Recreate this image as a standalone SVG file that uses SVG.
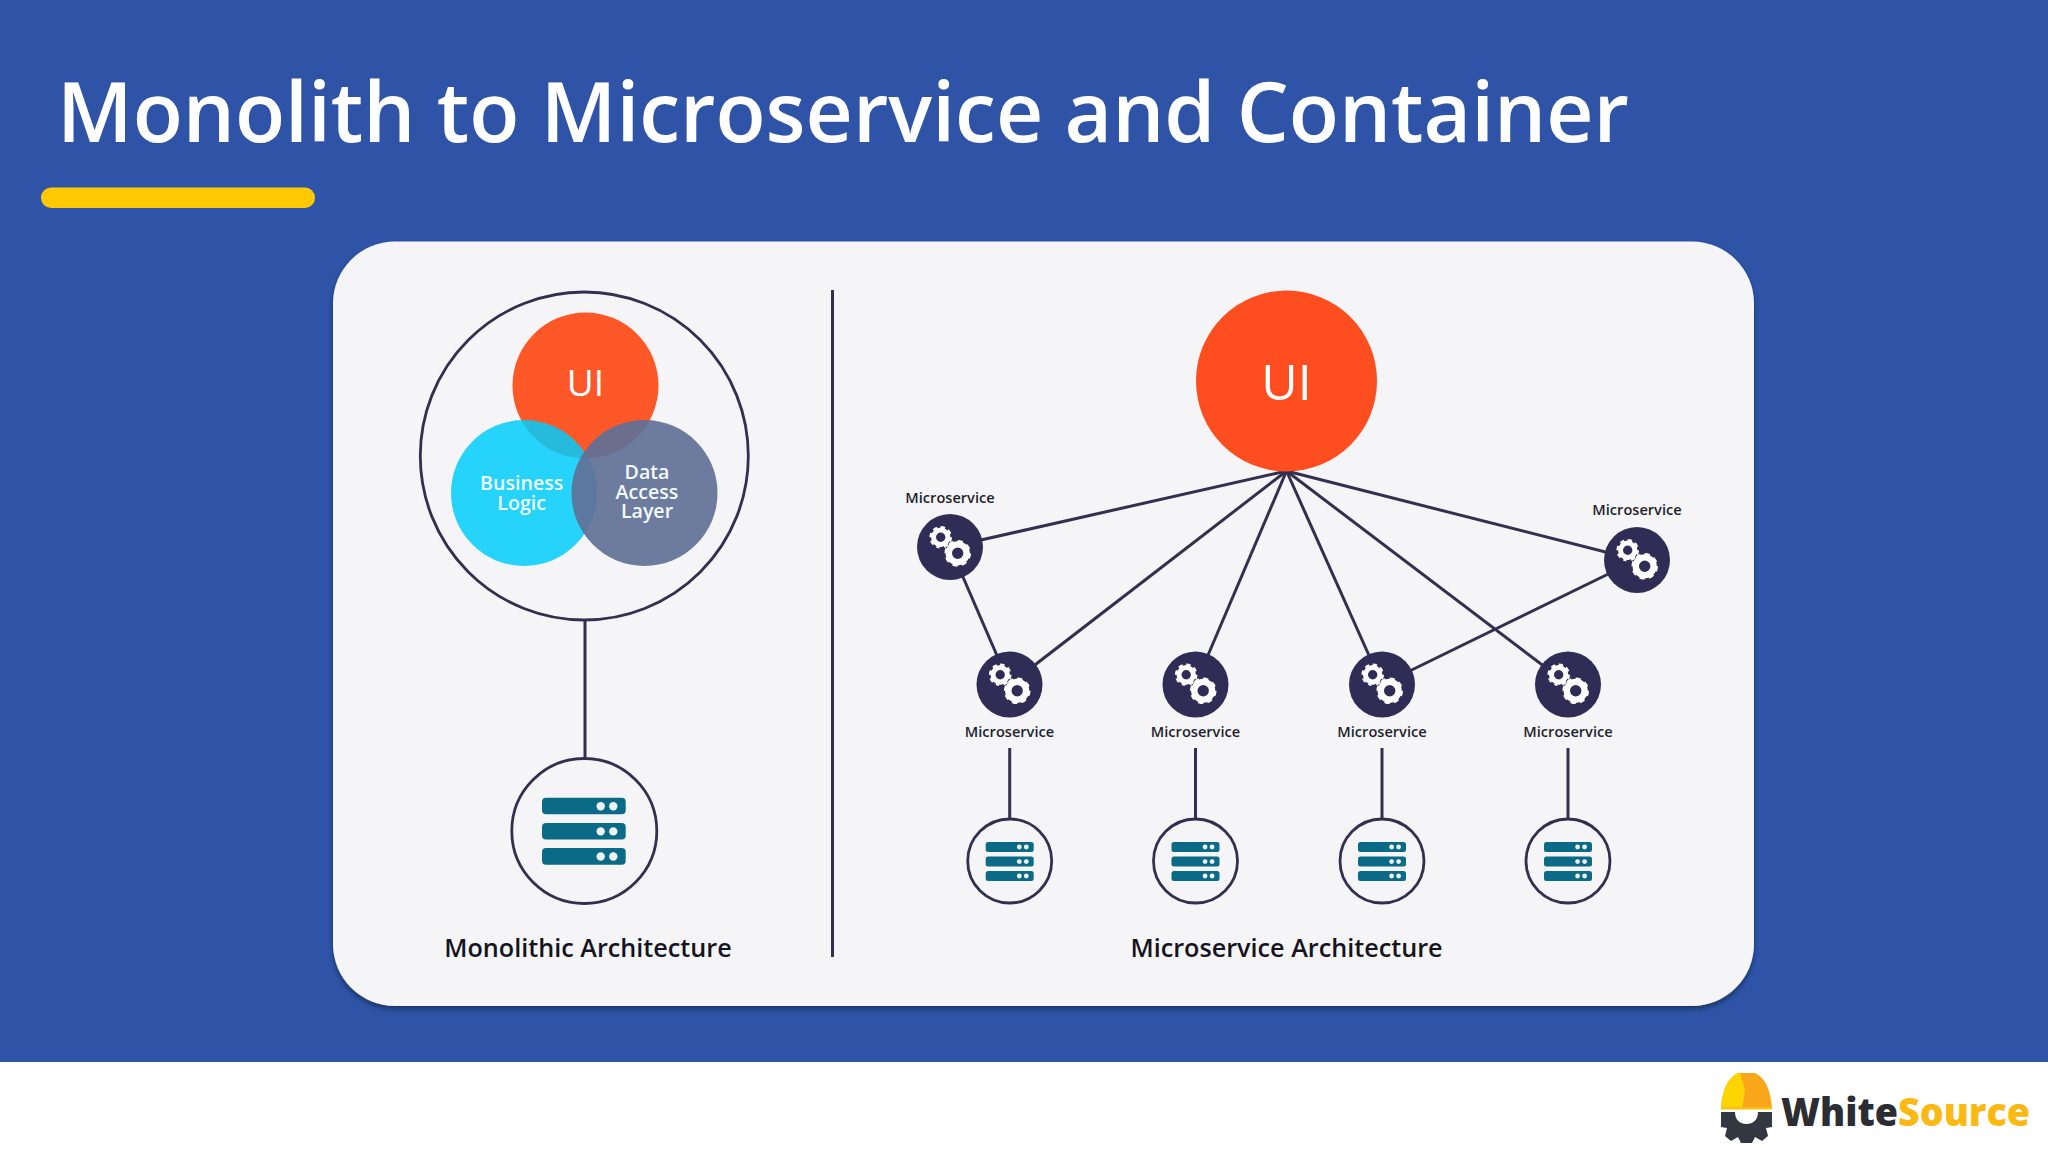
<svg xmlns="http://www.w3.org/2000/svg" width="2048" height="1152" viewBox="0 0 2048 1152">
<style>
text{font-family:"Open Sans","Noto Sans","Liberation Sans",sans-serif;text-anchor:middle}
.w{fill:#fff}
.ln{stroke:#33304f;stroke-width:3;fill:none}
.lab{font-size:14.6px;font-weight:600;fill:#1f1f2e}
.cap{font-size:25.2px;font-weight:600;fill:#14141e}
.in{font-size:19.6px;font-weight:600;fill:#f2fbff}
.bar{fill:#0b6a85}
.dot{fill:#eef3f8}
.node{fill:#2f2d55}
.srv{fill:#f5f5f7;stroke:#33304f;stroke-width:2.8}
</style>
<defs>
<filter id="sh" x="-5%" y="-5%" width="110%" height="110%"><feDropShadow dx="0" dy="3" stdDeviation="2.5" flood-color="#12254f" flood-opacity=".75"/></filter>
<g id="gears">
<circle cx="-9.3" cy="-9.7" r="7.2" fill="none" stroke="#fff" stroke-width="5"/>
<circle cx="-9.3" cy="-9.7" r="9.8" fill="none" stroke="#fff" stroke-width="3" pathLength="16" stroke-dasharray="1.1 .9"/>
<circle cx="7.7" cy="6.3" r="8.9" fill="none" stroke="#fff" stroke-width="6.4"/>
<circle cx="7.7" cy="6.3" r="11.8" fill="none" stroke="#fff" stroke-width="3" pathLength="16" stroke-dasharray="1.1 .9"/>
</g>
<g id="srvS">
<circle class="srv" r="42"/>
<rect class="bar" x="-24" y="-19" width="48" height="10" rx="2.5"/><rect class="bar" x="-24" y="-4.4" width="48" height="10" rx="2.5"/><rect class="bar" x="-24" y="10" width="48" height="10" rx="2.5"/>
<circle class="dot" cx="9.6" cy="-14" r="2.4"/><circle class="dot" cx="16.6" cy="-14" r="2.4"/>
<circle class="dot" cx="9.6" cy="0.6" r="2.4"/><circle class="dot" cx="16.6" cy="0.6" r="2.4"/>
<circle class="dot" cx="9.6" cy="15" r="2.4"/><circle class="dot" cx="16.6" cy="15" r="2.4"/>
</g>
</defs>
<rect width="2048" height="1152" fill="#fff"/>
<rect width="2048" height="1062" fill="#2f54a7"/>
<text class="w" x="57" y="142" font-size="84" font-weight="600" textLength="1572" lengthAdjust="spacingAndGlyphs" style="text-anchor:start">Monolith to Microservice and Container</text>
<rect x="41" y="187.500" width="274" height="20.500" rx="10" fill="#fec900"/>
<rect id="card" x="333" y="241.500" width="1421" height="764.500" rx="62" fill="#f5f5f7" filter="url(#sh)"/>
<line class="ln" x1="832.500" y1="290" x2="832.500" y2="957"/>

<g id="connectors">
<line class="ln" x1="585" y1="620" x2="585" y2="758"/>
<line class="ln" x1="1286.500" y1="471" x2="950" y2="547"/>
<line class="ln" x1="1286.500" y1="471" x2="1009.500" y2="684.500"/>
<line class="ln" x1="1286.500" y1="471" x2="1195.500" y2="684.500"/>
<line class="ln" x1="1286.500" y1="471" x2="1382" y2="684.500"/>
<line class="ln" x1="1286.500" y1="471" x2="1568" y2="684.500"/>
<line class="ln" x1="1286.500" y1="471" x2="1637" y2="560"/>
<line class="ln" x1="950" y1="547" x2="1009.500" y2="684.500"/>
<line class="ln" x1="1382" y1="684.500" x2="1637" y2="560"/>
<line class="ln" x1="1009.700" y1="748" x2="1009.700" y2="820"/>
<line class="ln" x1="1195.500" y1="748" x2="1195.500" y2="820"/>
<line class="ln" x1="1382" y1="748" x2="1382" y2="820"/>
<line class="ln" x1="1568" y1="748" x2="1568" y2="820"/>
</g>

<g id="monolith"><circle cx="584.300" cy="456" r="164" fill="none" stroke="#33304f" stroke-width="2.800"/></g>
<g id="mono-ui"><circle cx="585.500" cy="385.500" r="73" fill="#fe5829"/><text class="w" x="585.500" y="396" font-size="37" font-weight="500">UI</text></g>
<g id="mono-bl"><circle cx="524" cy="493" r="73" fill="#00ccfc" fill-opacity=".85"/><text class="in" x="521.700" y="490">Business</text><text class="in" x="521.700" y="510">Logic</text></g>
<g id="mono-dal"><circle cx="644.500" cy="493" r="73" fill="#5f7096" fill-opacity=".92"/><text class="in" x="647" y="479">Data</text><text class="in" x="647" y="498.700">Access</text><text class="in" x="647" y="518">Layer</text></g>
<g id="mono-db"><circle class="srv" cx="584.300" cy="831" r="72.500"/>
<rect class="bar" x="542" y="797.700" width="83.700" height="16.600" rx="4"/><rect class="bar" x="542" y="822.900" width="83.700" height="16.600" rx="4"/><rect class="bar" x="542" y="848" width="83.700" height="16.800" rx="4"/>
<circle class="dot" cx="600.700" cy="806.200" r="4.200"/><circle class="dot" cx="613.300" cy="806.200" r="4.200"/>
<circle class="dot" cx="600.700" cy="831.400" r="4.200"/><circle class="dot" cx="613.300" cy="831.400" r="4.200"/>
<circle class="dot" cx="600.700" cy="856.500" r="4.200"/><circle class="dot" cx="613.300" cy="856.500" r="4.200"/></g>
<text class="cap" x="588" y="957">Monolithic Architecture</text>

<g id="ui"><circle cx="1286.500" cy="381" r="90.500" fill="#fe4d1e"/><text class="w" x="1286.500" y="400" font-size="50" font-weight="500">UI</text></g>

<g id="ms1"><circle class="node" cx="950" cy="547" r="33"/><use href="#gears" x="950" y="547"/><text class="lab" x="950" y="503">Microservice</text></g>
<g id="ms2"><circle class="node" cx="1009.500" cy="684.500" r="33"/><use href="#gears" x="1009.500" y="684.500"/><text class="lab" x="1009.500" y="737">Microservice</text></g>
<g id="ms3"><circle class="node" cx="1195.500" cy="684.500" r="33"/><use href="#gears" x="1195.500" y="684.500"/><text class="lab" x="1195.500" y="737">Microservice</text></g>
<g id="ms4"><circle class="node" cx="1382" cy="684.500" r="33"/><use href="#gears" x="1382" y="684.500"/><text class="lab" x="1382" y="737">Microservice</text></g>
<g id="ms5"><circle class="node" cx="1568" cy="684.500" r="33"/><use href="#gears" x="1568" y="684.500"/><text class="lab" x="1568" y="737">Microservice</text></g>
<g id="ms6"><circle class="node" cx="1637" cy="560" r="33"/><use href="#gears" x="1637" y="560"/><text class="lab" x="1637" y="515">Microservice</text></g>

<g id="db1"><use href="#srvS" x="1009.700" y="861"/></g>
<g id="db2"><use href="#srvS" x="1195.500" y="861"/></g>
<g id="db3"><use href="#srvS" x="1382" y="861"/></g>
<g id="db4"><use href="#srvS" x="1568" y="861"/></g>
<text class="cap" x="1286.500" y="957">Microservice Architecture</text>

<g id="logo">
<path d="M1721 1108.500C1722 1092 1727 1078 1738 1073H1755C1766 1078 1771 1092 1772 1108.500Z" fill="#f8a71b"/>
<path d="M1721 1108.500C1722 1092 1727 1078 1738 1073H1740L1745 1090L1742 1108.500Z" fill="#fed503"/>
<rect x="1721" y="1107" width="51" height="2.500" fill="#fdc00f"/>
<path d="M1721 1112H1735C1735 1120 1740 1124 1746.500 1124C1753 1124 1758 1120 1758 1112H1772V1127L1766 1128L1768 1136L1762 1141L1755 1137L1752 1143H1741L1738 1137L1731 1141L1725 1136L1727 1128L1721 1127Z" fill="#33373f"/>
<text x="1781" y="1126" font-size="38" font-weight="800" textLength="249" lengthAdjust="spacingAndGlyphs" style="text-anchor:start"><tspan fill="#2b2d33">White</tspan><tspan fill="#fdb913">Source</tspan></text>
</g>
</svg>
